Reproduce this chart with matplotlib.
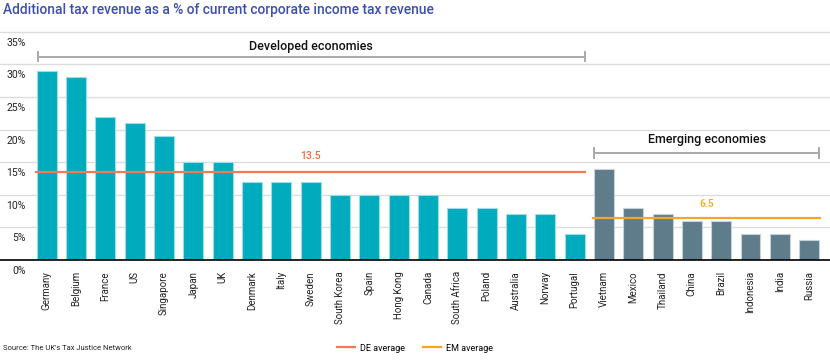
import matplotlib
matplotlib.use("Agg")
import matplotlib.pyplot as plt
import matplotlib.transforms as mtransforms
from matplotlib.lines import Line2D

plt.rcParams['font.family'] = ['Roboto', 'DejaVu Sans']

# data
developed = ["Germany", "Belgium", "France", "US", "Singapore", "Japan", "UK",
             "Denmark", "Italy", "Sweden", "South Korea", "Spain", "Hong Kong",
             "Canada", "South Africa", "Poland", "Australia", "Norway", "Portugal"]
developed_vals = [29, 28, 22, 21, 19, 15, 15, 12, 12, 12, 10, 10, 10, 10, 8, 8, 7, 7, 4]
emerging = ["Vietnam", "Mexico", "Thailand", "China", "Brazil", "Indonesia", "India", "Russia"]
emerging_vals = [14, 8, 7, 6, 6, 4, 4, 3]
de_avg = 13.5
em_avg = 6.5
yticks = [0, 5, 10, 15, 20, 25, 30, 35]

teal = "#00abbd"
slate = "#5f7c8a"
de_col = "#f07a52"
em_col = "#f5a623"
bracket_col = "#a9a9a9"

fig = plt.figure(figsize=(8.3, 3.6), dpi=100)
ax = fig.add_axes([0.0, 0.2778, 1.0, 0.6358])

n_de = len(developed)
x_de = list(range(n_de))
x_em = list(range(n_de, n_de + len(emerging)))
w = 0.68

ax.bar(x_de, developed_vals, width=w, color=teal, edgecolor="#9fdde4", linewidth=0.8, zorder=2)
ax.bar(x_em, emerging_vals, width=w, color=slate, edgecolor="#c5d2d8", linewidth=0.8, zorder=2)

# averages
ax.plot([x_de[0] - 0.36, x_de[-1] + 0.36], [de_avg, de_avg], color=de_col, lw=1.6, zorder=3)
ax.plot([x_em[0] - 0.36, x_em[-1] + 0.36], [em_avg, em_avg], color=em_col, lw=1.6, zorder=3)
ax.text(9, 15.9, f"{de_avg}", color="#f26b3a", fontsize=7.5, fontweight="medium",
        ha="center", va="center")
ax.text(22.5, 8.6, f"{em_avg}", color=em_col, fontsize=7.5, fontweight="medium",
        ha="center", va="center")

# group brackets
def bracket(x0, x1, y, label, ly):
    ax.plot([x0, x1], [y, y], color=bracket_col, lw=1.4, zorder=3)
    for xx in (x0, x1):
        ax.plot([xx, xx], [y - 0.7, y + 0.7], color=bracket_col, lw=1.4, zorder=3)
    ax.text((x0 + x1) / 2, ly, label, ha="center", va="center", fontsize=9,
            fontweight="medium", color="#111111")

bracket(x_de[0] - 0.3, x_de[-1] + 0.35, 31.2, "Developed economies", 32.8)
bracket(x_em[0] - 0.33, x_em[-1] + 0.35, 16.4, "Emerging economies", 18.5)

ax.set_xlim(-1.592, 26.71)
ax.set_ylim(0, 35.1)
ax.set_xticks(x_de + x_em)
ax.set_xticklabels(developed + emerging, rotation=90, fontsize=7, color="#222222")
ax.tick_params(axis="x", length=0, pad=8)

ax.set_yticks(yticks)
ax.set_yticklabels([f"{t}%" for t in yticks], fontsize=7.5, color="#222222")
ax.tick_params(axis="y", length=0, pad=-18.7)
offset = mtransforms.ScaledTranslation(0, -10 / 100, fig.dpi_scale_trans)
for lab in ax.get_yticklabels():
    lab.set_transform(lab.get_transform() + offset)

ax.yaxis.grid(True, color="#dcdcdc", lw=1, zorder=0)
ax.set_axisbelow(True)
for s in ["top", "left", "right"]:
    ax.spines[s].set_visible(False)
ax.spines["bottom"].set_color("black")
ax.spines["bottom"].set_linewidth(1.2)
ax.spines["bottom"].set_zorder(4)

fig.text(0.004, 0.972, "Additional tax revenue as a % of current corporate income tax revenue",
         fontsize=9.9, fontweight="medium", color="#3d4fb0", ha="left", va="center")
fig.text(0.004, 0.033, "Source: The UK's Tax Justice Network", fontsize=5.5, color="#222222",
         ha="left", va="center")

handles = [Line2D([], [], color=de_col, lw=1.6), Line2D([], [], color=em_col, lw=1.6)]
fig.legend(handles, ["DE average", "EM average"], loc="center", bbox_to_anchor=(0.5, 0.033),
           ncol=2, frameon=False, fontsize=6.5, handlelength=2.0, columnspacing=2.0,
           handletextpad=0.6)

fig.savefig("out.png", dpi=100)
